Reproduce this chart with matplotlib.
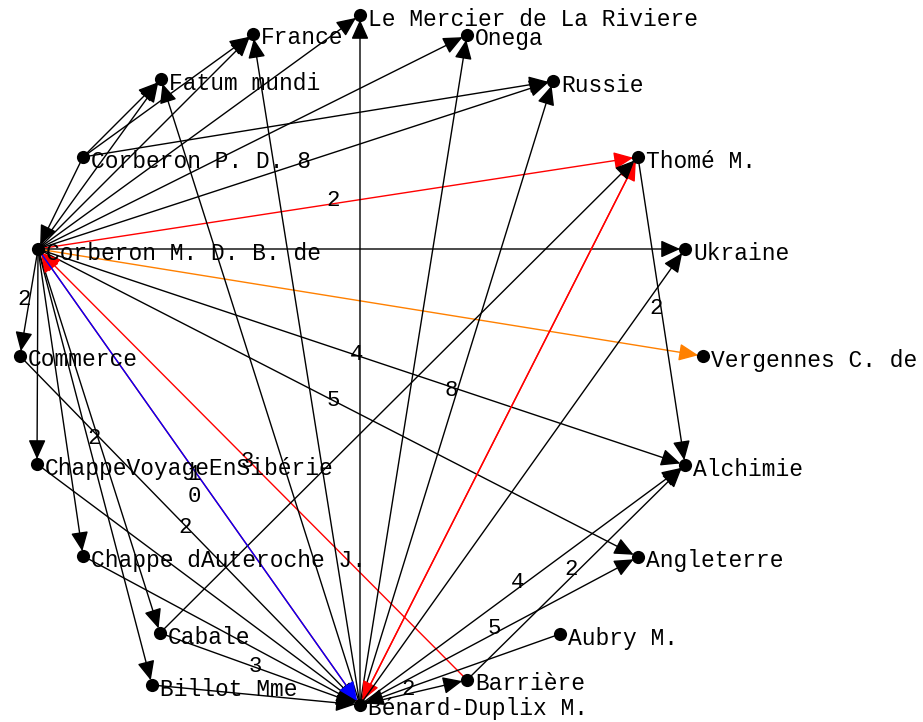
import matplotlib
matplotlib.use("Agg")
import matplotlib.pyplot as plt
from matplotlib.patches import FancyArrowPatch

# ---- data ----
nodes = ["Alchimie", "Angleterre", "Aubry M.", "Barrière", "Bénard-Duplix M.",
         "Billot Mme", "Cabale", "Chappe dAuteroche J.", "ChappeVoyageEnSibérie",
         "Commerce", "Corberon M. D. B. de", "Corberon P. D. 8", "Fatum mundi",
         "France", "Le Mercier de La Riviere", "Onega", "Russie", "Thomé M.",
         "Ukraine", "Vergennes C. de"]
node_x = [685, 638, 560, 467, 360, 152, 160, 83, 37, 20, 38, 83, 161, 253, 360, 467, 553, 638, 685, 703]
node_y = [465, 557, 634, 680, 705, 685, 633, 556, 464, 356, 249, 157, 79, 34, 15, 35, 81, 157, 249, 356]

# edges: source, target, value label, colour
edge_src = ["Corberon M. D. B. de"] * 16 + [
    "Bénard-Duplix M.", "Barrière", "Corberon P. D. 8", "Corberon P. D. 8",
    "Corberon P. D. 8", "Corberon P. D. 8",
    "Bénard-Duplix M.", "Bénard-Duplix M.", "Bénard-Duplix M.", "Bénard-Duplix M.",
    "Bénard-Duplix M.", "Bénard-Duplix M.", "Thomé M.", "Bénard-Duplix M.",
    "Bénard-Duplix M.", "Bénard-Duplix M.", "Bénard-Duplix M.", "Aubry M.",
    "Barrière", "Thomé M.", "Cabale", "Commerce", "ChappeVoyageEnSibérie",
    "Chappe dAuteroche J.", "Cabale", "Billot Mme"]
edge_dst = ["Fatum mundi", "France", "Le Mercier de La Riviere", "Onega", "Russie",
            "Thomé M.", "Ukraine", "Vergennes C. de", "Alchimie", "Angleterre",
            "Commerce", "ChappeVoyageEnSibérie", "Chappe dAuteroche J.", "Cabale",
            "Billot Mme", "Bénard-Duplix M."] + [
    "Corberon M. D. B. de", "Corberon M. D. B. de", "Corberon M. D. B. de",
    "Fatum mundi", "France", "Russie",
    "Fatum mundi", "France", "Le Mercier de La Riviere", "Onega",
    "Russie", "Thomé M.", "Bénard-Duplix M.", "Ukraine",
    "Alchimie", "Angleterre", "Barrière", "Bénard-Duplix M.",
    "Alchimie", "Alchimie", "Thomé M.", "Bénard-Duplix M.", "Bénard-Duplix M.",
    "Bénard-Duplix M.", "Bénard-Duplix M.", "Bénard-Duplix M."]
edge_val = ["", "", "", "", "", "2", "", "", "4", "5", "2", "", "", "2", "", "1"] + [
    "0", "3", "", "", "", "",
    "", "", "", "", "8", "", "", "",
    "4", "5", "2", "",
    "2", "2", "", "2", "", "", "3", ""]
edge_col = ["black"] * 5 + ["red", "black", "#ff8000"] + ["black"] * 7 + ["blue"] + [
    "red", "red", "black", "black", "black", "black",
    "black", "black", "black", "black", "black", "red", "red", "black",
    "black", "black", "black", "black",
    "black", "black", "black", "black", "black", "black", "black", "black"]

# ---- drawing ----
fig = plt.figure(figsize=(9.23, 7.22), dpi=100)
ax = fig.add_axes([0, 0, 1, 1])
ax.set_xlim(0, 923)
ax.set_ylim(722, 0)
ax.axis("off")

pos = {n: (x, y) for n, x, y in zip(nodes, node_x, node_y)}
font = "Liberation Mono"

# draw non-blue first so blue overlays
order = sorted(range(len(edge_src)), key=lambda i: edge_col[i] == "blue")
for i in order:
    s, d, c = edge_src[i], edge_dst[i], edge_col[i]
    p0, p1 = pos[s], pos[d]
    arr = FancyArrowPatch(p0, p1, arrowstyle="-|>,head_length=0.85,head_width=0.38",
                          mutation_scale=14, color=c, lw=1.0,
                          shrinkA=0, shrinkB=3.5, zorder=2)
    ax.add_patch(arr)

drawn_pairs = set()
for i in range(len(edge_src)):
    s, d, v = edge_src[i], edge_dst[i], edge_val[i]
    if not v:
        continue
    p0, p1 = pos[s], pos[d]
    mx, my = (p0[0] + p1[0]) / 2 - 5, (p0[1] + p1[1]) / 2 - 3
    key = frozenset((s, d))
    if key in drawn_pairs:
        my += 22
    drawn_pairs.add(key)
    ax.text(mx, my, v, family=font, fontsize=16, ha="center", va="center",
            color="black", zorder=4)

ax.scatter(node_x, node_y, s=90, color="black", zorder=3, linewidths=0)
for n, x, y in zip(nodes, node_x, node_y):
    ax.text(x + 8, y + 4, n, family=font, fontsize=16.5, ha="left", va="center",
            color="black", zorder=4)

fig.savefig("out.png", dpi=100)
